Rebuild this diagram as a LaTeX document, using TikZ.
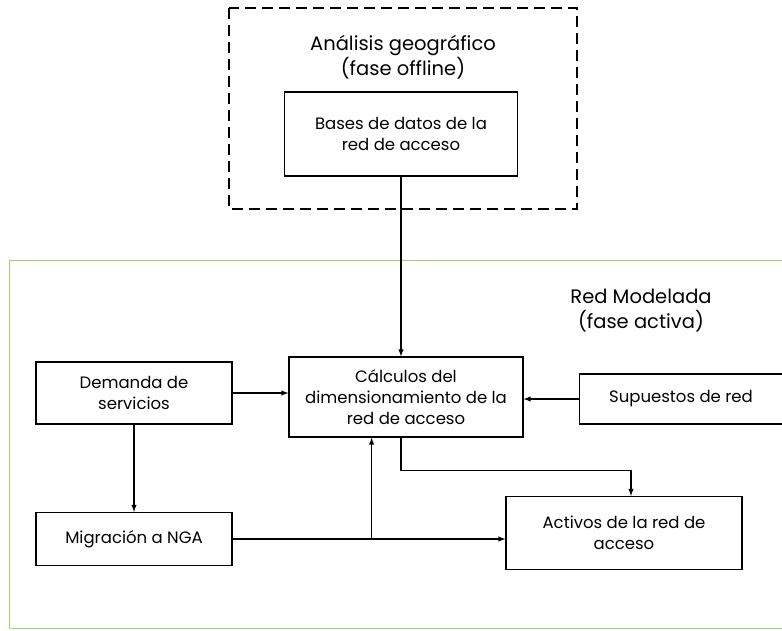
\documentclass[tikz,border=0pt]{standalone}
\usepackage{fontspec}
\setmainfont{Poppins}
\usetikzlibrary{arrows,calc,positioning}
\definecolor{framegreen}{RGB}{160,215,100}
\tikzset{
  % boxes of the flow
  block/.style={draw, rectangle, line width=1.2pt, align=center,
  font=\fontsize{16.5}{21}\selectfont},
  title/.style={align=center, font=\fontsize{19.5}{25}\selectfont},
  conn/.style={line width=1.4pt}}

\begin{document}
\begin{tikzpicture}[x=1pt, y=-1pt,
    >=latex,              % filled arrow heads
    ]
\useasboundingbox (0,0) rectangle (782,630);
\clip (0,0) rectangle (782,630);

% offline part
\draw [dashed, line width=1.2pt, dash pattern=on 11pt off 6pt] (229,8) rectangle (577,209);
\node (offline) [title] at (403,57) {Análisis geográfico\\(fase offline)};
\node (bases) [block, minimum width=233pt, minimum height=84pt] at (401,134)
{Bases de datos de la\\red de acceso};

% active part
\draw [framegreen, line width=1pt] (9,260) rectangle (800,628);
\node (active) [title] at (641,311) {Red Modelada\\(fase activa)};

\node (calc) [block, minimum width=234pt, minimum height=80pt] at (406,397)
{Cálculos del\\dimensionamiento de la\\red de acceso};

\node (demand) [block, minimum width=196pt, minimum height=62pt] at (134,393)
{Demanda de\\servicios};

\node (sup) [block, minimum width=203pt, minimum height=50pt] at (681,399)
{Supuestos de red};

\node (migr) [block, minimum width=196pt, minimum height=53pt] at (134,539)
{Migración a NGA};

\node (assets) [block, minimum width=236pt, minimum height=73pt] at (624,533)
{Activos de la red de\\acceso};

\draw [conn, ->] (bases.south) -- (bases.south |- calc.north);
\draw [conn, ->] (demand.east) -- (demand.east -| calc.west);
\draw [conn, ->] (sup.west) -- (sup.west -| calc.east);
\draw [conn, ->] (demand.south) -- (migr.north);

\coordinate (jn) at ($(migr.east)+(139,0)$); %branch to calc
\draw [conn, ->] (migr.east) -- (migr.east -| assets.west);
\draw [conn, ->] (jn) -- (jn |- calc.south);

\coordinate (out) at (calc.south -| bases.south); %out of calc
\coordinate (in) at ($(assets.north)+(7,0)$);
\draw [conn, ->] (out) -- ++(0,33) -| (in);

\end{tikzpicture}
\end{document}
